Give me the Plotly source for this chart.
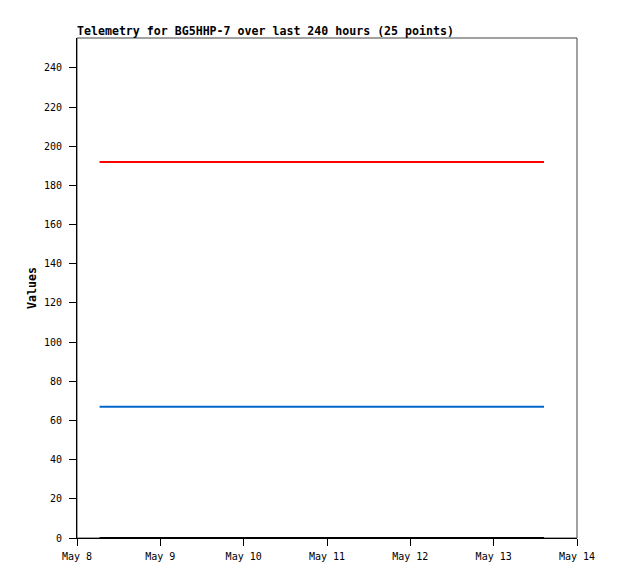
import plotly.graph_objects as go

times = [
    "2024-05-08 06:30", "2024-05-08 11:50", "2024-05-08 17:10", "2024-05-08 22:30",
    "2024-05-09 03:50", "2024-05-09 09:10", "2024-05-09 14:30", "2024-05-09 19:50",
    "2024-05-10 01:10", "2024-05-10 06:30", "2024-05-10 11:50", "2024-05-10 17:10",
    "2024-05-10 22:30", "2024-05-11 03:50", "2024-05-11 09:10", "2024-05-11 14:30",
    "2024-05-11 19:50", "2024-05-12 01:10", "2024-05-12 06:30", "2024-05-12 11:50",
    "2024-05-12 17:10", "2024-05-12 22:30", "2024-05-13 03:50", "2024-05-13 09:10",
    "2024-05-13 14:30",
]
series_red = [192] * 25
series_blue = [67] * 25
series_black = [0] * 25

title_text = "Telemetry for BG5HHP-7 over last 240 hours (25 points)"
y_title = "Values"
x_range = ["2024-05-08 00:00", "2024-05-14 00:00"]
y_range = [0, 255.3]

FONT = "DejaVu Sans Mono"
W, H = 610, 571

fig = go.Figure()
for vals, col in [(series_red, "#ff0000"), (series_blue, "#0066cc"), (series_black, "#000000")]:
    fig.add_trace(go.Scatter(x=times, y=vals, mode="lines",
                             line=dict(color=col, width=2), showlegend=False,
                             cliponaxis=False))

fig.update_layout(
    width=W, height=H,
    margin=dict(l=69, r=41, t=30, b=41),
    paper_bgcolor="white", plot_bgcolor="white",
    font=dict(family=FONT, size=10, color="black"),
    title=dict(text="<b>" + title_text + "</b>", font=dict(family=FONT, size=11.6, color="black"),
               xref="paper", x=0, xanchor="left", yref="container", y=1 - 23 / H, yanchor="middle"),
    xaxis=dict(type="date", range=x_range, dtick=86400000, tickformat="%b %-d",
               showgrid=False, zeroline=False, showline=True, linecolor="black", linewidth=1,
               ticks="outside", ticklen=7, tickcolor="black", tickwidth=1, ticklabelstandoff=2,
               tickfont=dict(family=FONT, size=10, color="black")),
    yaxis=dict(range=y_range, tick0=0, dtick=20, showgrid=False, zeroline=False,
               showline=True, linecolor="black", linewidth=1,
               ticks="outside", ticklen=7, tickcolor="black", tickwidth=1, ticklabelstandoff=5,
               tickfont=dict(family=FONT, size=10, color="black"),
               title=dict(text="<b>" + y_title + "</b>", font=dict(family=FONT, size=11.6, color="black"),
                          standoff=4)),
    shapes=[dict(type="rect", xref="paper", yref="paper", x0=0, x1=1, y0=0, y1=1,
                 line=dict(color="#444444", width=1), layer="below")],
)

fig.write_html("out.html")
